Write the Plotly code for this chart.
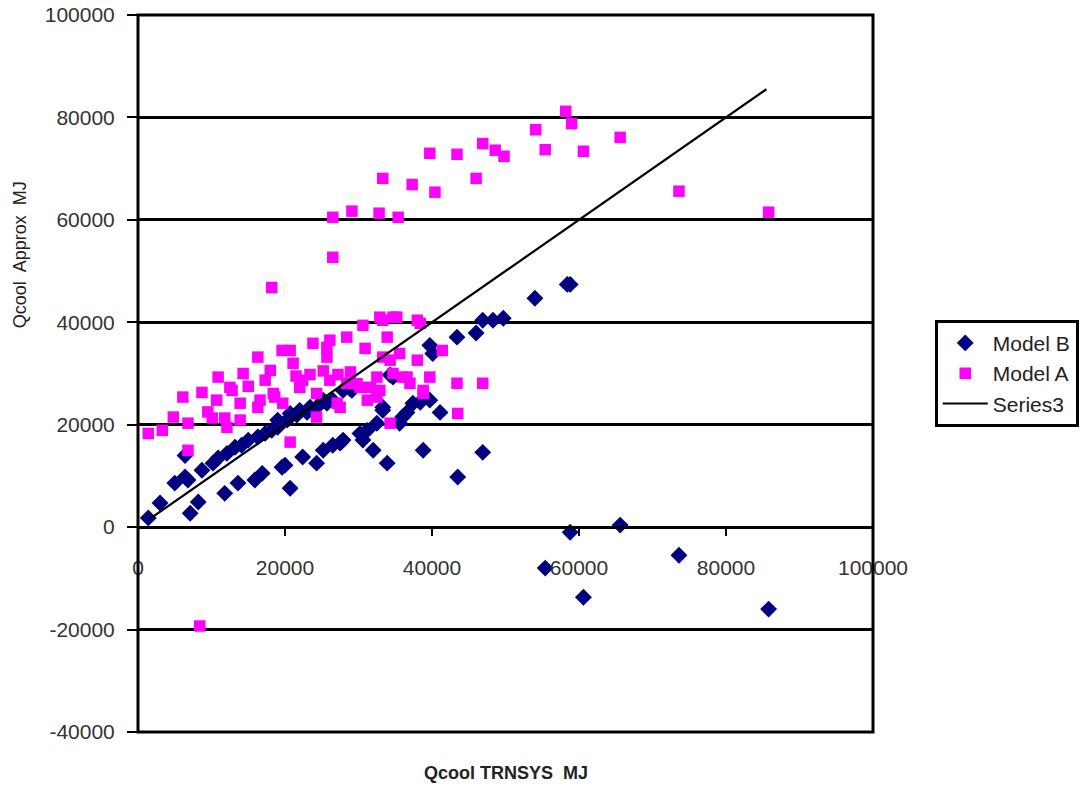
import plotly.graph_objects as go

# ---------------- data ----------------
model_b_x = [1400, 3000, 5000, 6400, 6800, 8700, 10200, 10900, 12100, 13200, 14100, 15000,
             16300, 17300, 18200, 19000, 19000, 20300, 20700, 21600, 22000, 23000, 23400,
             24300, 25200, 25700, 26500, 27900, 28800, 29100, 34300, 34700,
             7100, 8200, 11800, 13600, 15900, 16900, 19600, 20000, 20700, 22400, 24300,
             25200, 26500, 27500, 27900, 30200, 30600, 31200, 32000, 32500, 33300, 33300,
             33900, 35600, 36000, 36600, 37400, 38400, 38800, 39700, 41100, 43500, 46900,
             39700, 40100, 43400, 46000, 46900, 48300, 49700, 54000, 58400, 58800,
             58800, 65600, 55400, 60600, 73600, 85800, 6400]
model_b_y = [1800, 4700, 8600, 9800, 9200, 11100, 12500, 13500, 14400, 15600, 16000, 17000,
             17600, 18300, 18900, 19500, 20900, 20900, 22200, 21900, 22800, 22400, 23400,
             23400, 24800, 24200, 24800, 26700, 27100, 26700, 29700, 29300,
             2700, 4900, 6600, 8600, 9200, 10500, 11700, 12100, 7600, 13700, 12500,
             15000, 16000, 16400, 17000, 18300, 17000, 18900, 15000, 20300, 22800, 23400,
             12500, 20300, 21500, 22400, 24200, 24400, 15000, 24800, 22400, 9800, 14600,
             35500, 33900, 37100, 37900, 40400, 40400, 40800, 44700, 47400, 47400,
             -1000, 400, -8000, -13700, -5500, -16000, 14000]

model_a_x = [26500, 29100, 32800, 35400, 33300, 37300, 39700, 40400, 43400, 46000, 46900,
             48600, 49800, 26500, 18200, 58200, 59000, 54100, 55400, 60600, 65600, 73600,
             85800, 8400,
             1400, 3300, 4800, 6100, 6800, 6800, 8700, 10100, 10900, 10700, 12100, 12500,
             13900, 14300, 13900, 16300, 16600, 18000, 18400, 20700, 20700, 21100, 19700,
             22400, 23800, 24300, 24300, 25700, 26100, 27100, 28400, 28400, 30600, 30900,
             31600, 32500, 33300, 34700, 33900, 34700, 33300, 34300, 35600, 36600, 38000,
             38000, 38800, 39700, 41400, 43400, 43500, 46900,
             11800, 12800, 17300, 16300, 18600, 19600, 22000, 26100, 25700, 27500, 30200,
             31200, 32900, 35200, 34300, 32500, 32900, 36000, 37000, 38800, 38400,
             23400, 25200, 27200, 28900, 29800, 21500, 15000, 9500]
model_a_y = [60500, 61700, 61300, 60500, 68100, 66900, 73000, 65400, 72800, 68100, 74900,
             73600, 72400, 52700, 46800, 81200, 78800, 77600, 73700, 73400, 76100, 65600,
             61500, -19300,
             18300, 18900, 21500, 25400, 20300, 15000, 26300, 21300, 29300, 24800, 19500, 27300,
             24200, 30000, 20900, 33200, 24800, 30600, 26100, 34500, 16600, 32000, 24200,
             28700, 35900, 26100, 21500, 35100, 28700, 24200, 37100, 28100, 39400, 34900,
             27300, 25400, 40400, 41000, 37100, 30000, 33200, 20300, 33900, 29300, 40400,
             32600, 26100, 29300, 34500, 28100, 22200, 28100,
             21300, 26700, 28700, 23400, 25400, 34500, 27300, 36500, 33200, 23400, 27300,
             24800, 41000, 41000, 32600, 29300, 26700, 29300, 28100, 26700, 39800,
             29800, 30500, 29800, 30300, 28000, 29500, 27500, 22500]

series3_x = [1500, 85500]
series3_y = [1500, 85500]

y_ticks = [-40000, -20000, 0, 20000, 40000, 60000, 80000, 100000]
x_ticks = [0, 20000, 40000, 60000, 80000, 100000]

FONT = "Arial, 'Liberation Sans', sans-serif"

fig = go.Figure()
fig.add_trace(go.Scatter(x=model_b_x, y=model_b_y, mode="markers", name="Model B",
                         marker=dict(symbol="diamond", size=13, color="#000080",
                                     line=dict(width=0))))
fig.add_trace(go.Scatter(x=model_a_x, y=model_a_y, mode="markers", name="Model A",
                         marker=dict(symbol="square", size=11.5, color="#FF00FF",
                                     line=dict(width=0))))
fig.add_trace(go.Scatter(x=series3_x, y=series3_y, mode="lines", name="Series3",
                         line=dict(color="black", width=2.2)))

fig.update_layout(
    width=1091, height=787,
    margin=dict(l=138, r=218, t=15, b=55),
    paper_bgcolor="white", plot_bgcolor="white",
    font=dict(family=FONT, size=21, color="#222"),
    showlegend=True,
    legend=dict(x=1.084, xanchor="left", y=0.575, yanchor="top",
                bordercolor="black", borderwidth=3, bgcolor="white",
                font=dict(size=21, color="#222"), itemwidth=45, tracegroupgap=2),
    xaxis=dict(range=[0, 100000], tickvals=x_ticks, ticktext=[str(v) for v in x_ticks],
               anchor="free", position=40000 / 140000, automargin=False,
               showgrid=False, zeroline=False, showline=True, linecolor="black", linewidth=2.5,
               ticks="outside", ticklen=7, tickwidth=2, tickcolor="black",
               ticklabelstandoff=14, tickfont=dict(size=21, color="#333")),
    yaxis=dict(range=[-40000, 100000], tickvals=y_ticks, ticktext=[str(v) for v in y_ticks],
               automargin=False,
               showgrid=True, gridcolor="black", gridwidth=2.5, zeroline=False,
               showline=False, ticks="outside", ticklen=10, tickwidth=2, tickcolor="black",
               ticklabelstandoff=8, tickfont=dict(size=21, color="#333")),
    shapes=[dict(type="rect", xref="paper", yref="paper", x0=0, x1=1, y0=0, y1=1,
                 line=dict(color="black", width=3), layer="above")],
    annotations=[
        dict(text="<b>Qcool TRNSYS  MJ</b>", xref="paper", yref="paper", x=0.5, y=-0.057,
             showarrow=False, font=dict(size=18, color="#222"), xanchor="center",
             yanchor="middle"),
        dict(text="Qcool  Approx  MJ", xref="paper", yref="paper", x=-0.1605, y=0.665,
             showarrow=False, textangle=-90, font=dict(size=18, color="#222"),
             xanchor="center", yanchor="middle"),
    ],
)

fig.write_html("out.html")
